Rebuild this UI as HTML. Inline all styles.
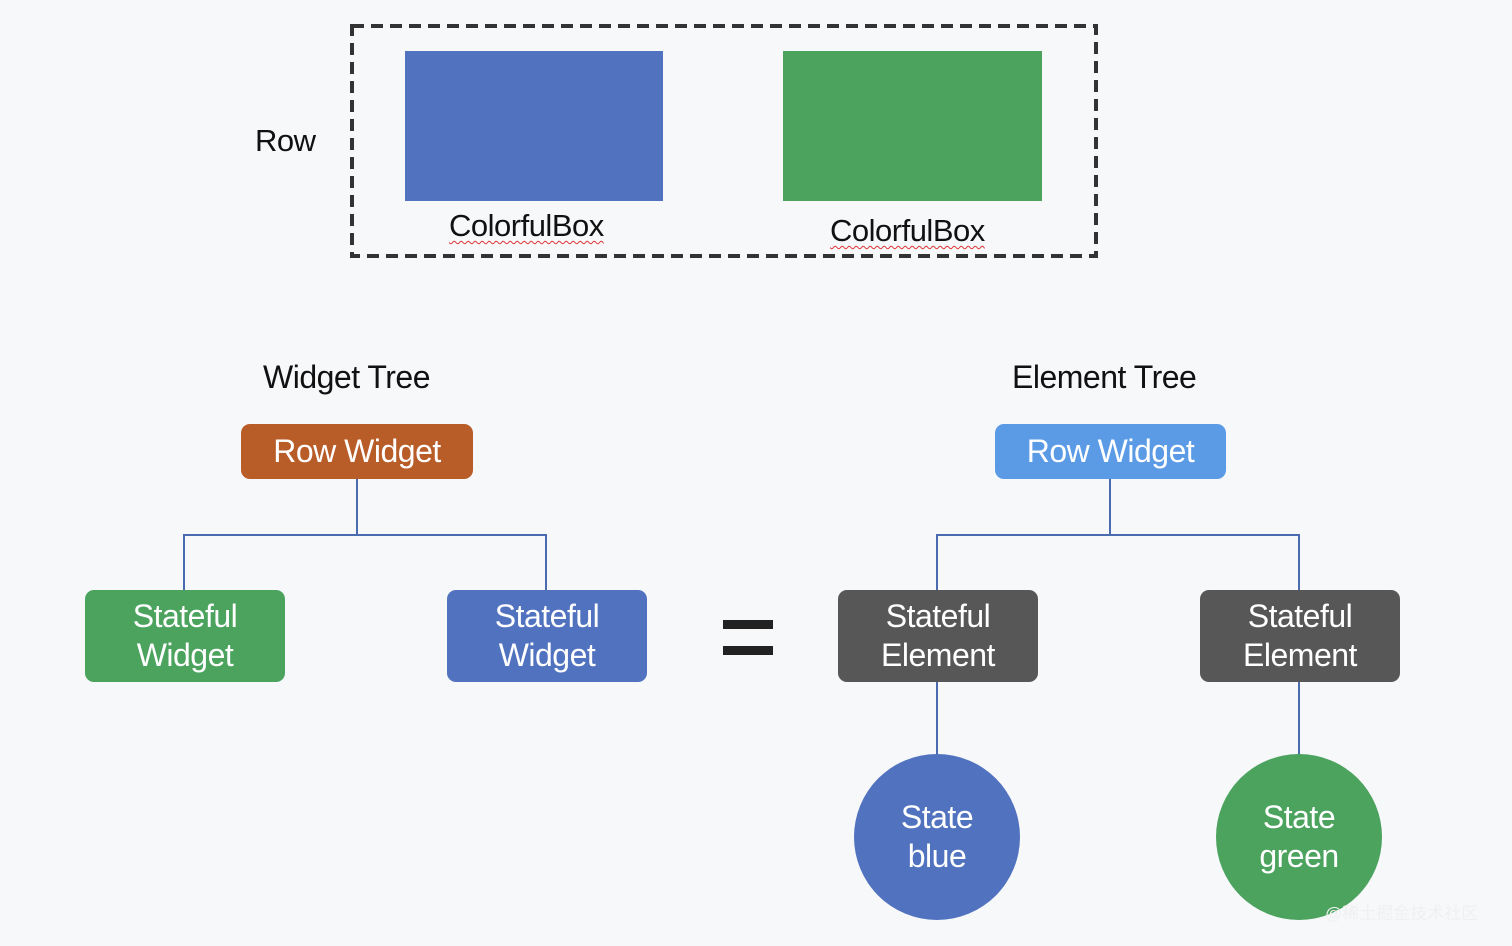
<!DOCTYPE html>
<html><head><meta charset="utf-8"><style>
html,body{margin:0;padding:0}
body{width:1512px;height:946px;background:#f7f8fa;position:relative;overflow:hidden;font-family:"Liberation Sans","Noto Sans CJK SC",sans-serif}
.a{position:absolute}
.box{position:absolute;color:#fff;display:flex;align-items:center;justify-content:center;text-align:center;font-size:32px;line-height:39px;border-radius:9px;letter-spacing:-0.5px}
.t{position:absolute;font-size:31px;color:#111;white-space:nowrap;letter-spacing:-0.5px}
.wavy{text-decoration:underline wavy #d33;text-decoration-thickness:1px;text-underline-offset:4px}
</style></head><body>
<svg class="a" style="left:0;top:0" width="1512" height="946">
<rect x="352" y="26" width="744" height="230" fill="none" stroke="#333" stroke-width="4" stroke-dasharray="12,7"/>
<rect x="405" y="51" width="258" height="150" fill="#5072bf"/>
<rect x="783" y="51" width="259" height="150" fill="#4ba35e"/>
<g stroke="#4a6bb0" stroke-width="2" fill="none">
<path d="M357 479V535M184 590V535H546V590"/>
<path d="M1110 479V535M937 590V535H1299V590"/>
<path d="M937 682V755M1299 682V755"/>
</g>
<rect x="723" y="620" width="50" height="9" fill="#222"/>
<rect x="723" y="646" width="50" height="9" fill="#222"/>
<circle cx="937" cy="837" r="83" fill="#5072bf"/>
<circle cx="1299" cy="837" r="83" fill="#4ba35e"/>
</svg>
<div class="t" style="left:255px;top:123px">Row</div>
<div class="t wavy" style="left:449px;top:208px">ColorfulBox</div>
<div class="t wavy" style="left:830px;top:213px">ColorfulBox</div>
<div class="t" style="left:263px;top:359px;font-size:32px">Widget Tree</div>
<div class="t" style="left:1012px;top:359px;font-size:32px">Element Tree</div>
<div class="box" style="left:241px;top:424px;width:232px;height:55px;background:#b85c28">Row Widget</div>
<div class="box" style="left:995px;top:424px;width:231px;height:55px;background:#5b9be6">Row Widget</div>
<div class="box" style="left:85px;top:590px;width:200px;height:92px;background:#4ba35e">Stateful<br>Widget</div>
<div class="box" style="left:447px;top:590px;width:200px;height:92px;background:#5072bf">Stateful<br>Widget</div>
<div class="box" style="left:838px;top:590px;width:200px;height:92px;background:#575757">Stateful<br>Element</div>
<div class="box" style="left:1200px;top:590px;width:200px;height:92px;background:#575757">Stateful<br>Element</div>
<div class="box" style="left:854px;top:798px;width:166px;height:78px;background:none">State<br>blue</div>
<div class="box" style="left:1216px;top:798px;width:166px;height:78px;background:none">State<br>green</div>
<div class="a" style="left:1325px;top:899px;font-size:17px;color:#f0f0f0">@稀土掘金技术社区</div>
</body></html>
